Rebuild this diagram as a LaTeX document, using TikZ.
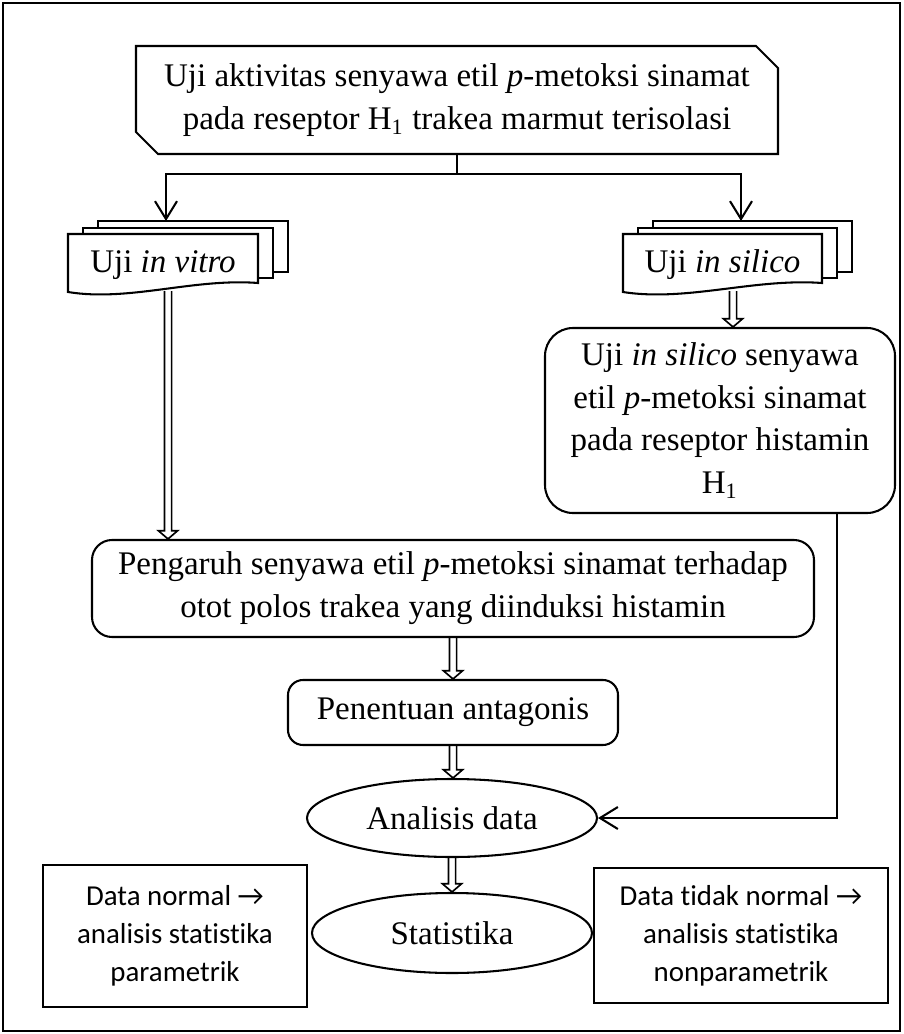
\documentclass[tikz,border=0pt]{standalone}
\usepackage{fontspec}
\setmainfont{Liberation Serif}
\newfontfamily\calibri[Ligatures=NoCommon]{Carlito}
\usetikzlibrary{arrows.meta,calc,shapes.geometric,shapes.misc}
\newdimen\pxu \pxu=0.3636pt

\tikzset{
	box/.style={draw, line width=0.75pt, align=center, inner sep=0pt, font=\fontsize{12}{15.6}\selectfont},
	rbox/.style={box, rounded corners=20\pxu},
	oval/.style={box, ellipse},
	note/.style={draw, line width=0.75pt, align=center, inner sep=0pt, font=\calibri\fontsize{10.5}{13.8}\selectfont},
	conn/.style={line width=0.75pt, -{Straight Barb[length=6.5pt,width=8pt]}},
	blockarrow/.style={line width=0.6pt, to path={let \p1=(\tikztostart), \p2=(\tikztotarget) in
		(\x1-1.3pt,\y1) -- (\x1-1.3pt,\y2+3pt) -- (\x1-3.5pt,\y2+3pt) -- (\x1,\y2)
		-- (\x1+3.5pt,\y2+3pt) -- (\x1+1.3pt,\y2+3pt) -- (\x1+1.3pt,\y1)}}
}

\begin{document}
\begin{tikzpicture}[x=0.3636pt, y=-0.3636pt]
	\useasboundingbox (0,0) rectangle (903,1034);
	% Frame
	\draw[line width=0.75pt] (3,3) rectangle (900,1031);
	
	% Main test
	\node[box, chamfered rectangle, chamfered rectangle corners={north east, south west},
		chamfered rectangle xsep=11\pxu, chamfered rectangle ysep=11\pxu,
		minimum width=642\pxu, minimum height=108\pxu] (uji) at (457,100)
		{Uji aktivitas senyawa etil \textit{p}-metoksi sinamat\\pada reseptor H\textsubscript{1} trakea marmut terisolasi};
	
	% Split to both tests
	\draw[line width=0.75pt] (uji.south) -- ++(0,19) coordinate (split);
	\coordinate (vitrotop) at (166,221);
	\coordinate (silicotop) at (741,221);
	\draw[conn] (split) -| (vitrotop);
	\draw[conn] (split) -| (silicotop);
	
	% Stacked documents
	\foreach \n/\xx/\ww/\txt in {vitro/68/190/{Uji \textit{in vitro}}, silico/623/199/{Uji \textit{in silico}}}{
		\begin{scope}[shift={(\xx,234)}]
			\filldraw[line width=0.75pt, fill=white] (30,-13) rectangle (\ww+30,38);
			\filldraw[line width=0.75pt, fill=white] (15,-6) rectangle (\ww+15,44);
			\filldraw[line width=0.75pt, fill=white] (0,0) -- (\ww,0) -- (\ww,49)
				.. controls (0.66*\ww,44) and (0.32*\ww,68) .. (0,58) -- cycle;
		\end{scope}
		\node[font=\fontsize{12}{15.6}\selectfont] (\n) at (\xx+0.5*\ww,265) {\txt};
	}
	\coordinate (vitrobot) at (168,291);
	\coordinate (silicobot) at (733,291);
	
	% In silico test
	\node[rbox, rounded corners=28\pxu, minimum width=350\pxu, minimum height=185\pxu] (silicobox) at (720,420.5)
		{Uji \textit{in silico} senyawa\\etil \textit{p}-metoksi sinamat\\pada reseptor histamin\\H\textsubscript{1}};
	
	% In vitro steps
	\node[rbox, minimum width=722\pxu, minimum height=97\pxu] (pengaruh) at (453,588.5)
		{Pengaruh senyawa etil \textit{p}-metoksi sinamat terhadap\\otot polos trakea yang diinduksi histamin};
	\node[rbox, rounded corners=15\pxu, minimum width=330\pxu, minimum height=65\pxu] (antagonis) at (453,712.5)
		{Penentuan antagonis};
	\node[oval, minimum width=290\pxu, minimum height=78\pxu] (analisis) at (452,818) {Analisis data};
	\node[oval, minimum width=280\pxu, minimum height=80\pxu] (statistika) at (452,933) {Statistika};
	
	% Notes
	\node[note, minimum width=264\pxu, minimum height=142\pxu] (parametrik) at (175,936)
		{Data normal →\\analisis statistika\\parametrik};
	\node[note, minimum width=294\pxu, minimum height=135\pxu] (nonparametrik) at (741,935.5)
		{Data tidak normal →\\analisis statistika\\nonparametrik};
	
	% Block arrows
	\draw[blockarrow] (vitrobot) to (pengaruh.north -| vitrobot);
	\draw[blockarrow] (silicobot) to (silicobox.north -| silicobot);
	\draw[blockarrow] (pengaruh.south) to (antagonis.north);
	\draw[blockarrow] (antagonis.south) to (analisis.north);
	\draw[blockarrow] (analisis.south) to (statistika.north);
	
	% In silico result to analysis
	\coordinate (turn) at (837,818);
	\draw[conn] (silicobox.south -| turn) -- (turn) -- (analisis.east);
\end{tikzpicture}
\end{document}
